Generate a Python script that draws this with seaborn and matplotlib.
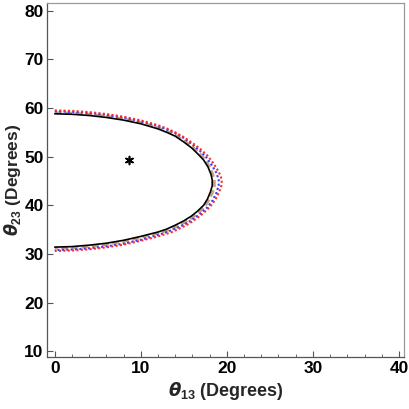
import numpy as np
import pandas as pd
import matplotlib
matplotlib.use("Agg")
import matplotlib.pyplot as plt
import seaborn as sns
from matplotlib.ticker import MultipleLocator

# contour values (theta13, theta23 in degrees)
black_t13 = [0, 2, 4, 6, 8, 10, 12, 13, 14, 15, 15.9, 16.6, 17.3, 17.8, 18.15, 18.3,
             18.3, 18.1, 17.75, 17.3, 16.6, 15.9, 15.0, 14.0, 13.0, 12.0, 10.0, 8.0, 6.0, 4.0, 2.0, 0]
black_t23 = [58.8, 58.7, 58.45, 58.05, 57.5, 56.75, 55.7, 55.0, 54.2, 53.0, 51.8, 50.6, 49.3, 47.9, 46.4, 45.2,
             44.0, 42.8, 41.3, 40.0, 38.8, 37.8, 36.8, 35.9, 35.1, 34.5, 33.6, 32.8, 32.2, 31.8, 31.5, 31.4]

brown_t13 = [0, 2, 4, 6, 8, 10, 12, 13, 14, 15, 16.0, 16.75, 17.45, 17.95, 18.35, 18.55,
             18.55, 18.35, 17.95, 17.5, 16.85, 16.1, 15.25, 14.25, 13.2, 12.0, 10.0, 8.0, 6.0, 4.0, 2.0, 0]
brown_t23 = [59.05, 58.95, 58.7, 58.3, 57.75, 57.0, 55.95, 55.25, 54.45, 53.3, 52.0, 50.8, 49.5, 48.0, 46.5, 45.2,
             44.0, 42.7, 41.2, 39.9, 38.7, 37.6, 36.6, 35.7, 34.9, 34.25, 33.35, 32.55, 31.95, 31.55, 31.25, 31.15]

blue_t13 = [0, 2, 4, 6, 8, 10, 12, 13, 14, 15, 16, 16.8, 17.55, 18.15, 18.75, 19.05,
            19.05, 18.8, 18.35, 17.75, 17.0, 16.2, 15.3, 14.3, 13.2, 12.0, 10.0, 8.0, 6.0, 4.0, 2.0, 0]
blue_t23 = [59.3, 59.2, 58.95, 58.55, 58.0, 57.25, 56.25, 55.6, 54.8, 53.8, 52.5, 51.3, 50.0, 48.5, 46.8, 45.3,
            44.1, 42.6, 41.0, 39.6, 38.4, 37.3, 36.3, 35.4, 34.6, 33.9, 32.9, 32.1, 31.55, 31.15, 30.9, 30.8]

red_t13 = [0, 2, 4, 6, 8, 10, 12, 13, 14, 15, 16, 16.9, 17.75, 18.45, 19.05, 19.4,
           19.4, 19.1, 18.65, 18.05, 17.3, 16.5, 15.6, 14.6, 13.5, 12.0, 10.0, 8.0, 6.0, 4.0, 2.0, 0]
red_t23 = [59.5, 59.4, 59.15, 58.75, 58.2, 57.45, 56.45, 55.8, 55.0, 54.0, 52.8, 51.6, 50.2, 48.6, 46.9, 45.4,
           44.2, 42.7, 41.1, 39.7, 38.4, 37.3, 36.2, 35.3, 34.4, 33.6, 32.7, 31.9, 31.35, 30.95, 30.7, 30.6]

best_fit = (8.6, 49.3)

x_ticks = [0, 10, 20, 30, 40]
y_ticks = [10, 20, 30, 40, 50, 60, 70, 80]

sns.set_style("white")
plt.rcParams['font.family'] = ['Liberation Sans', 'DejaVu Sans']
plt.rcParams['font.weight'] = 'bold'
plt.rcParams['mathtext.fontset'] = 'custom'
plt.rcParams['mathtext.it'] = 'DejaVu Sans:italic:bold'
plt.rcParams['mathtext.rm'] = 'Liberation Sans'

fig = plt.figure(figsize=(4.09, 4.09), dpi=100)
ax = fig.add_axes([0.115, 0.127, 0.873, 0.866])

curves = [
    (brown_t13, brown_t23, dict(color='#c9a27a', lw=2.0, linestyle=(0, (2.5, 1.2)))),
    (black_t13, black_t23, dict(color='black', lw=1.2, linestyle='-')),
    (blue_t13, blue_t23, dict(color='#3a3aff', lw=1.5, linestyle=(0, (1, 1.1)))),
    (red_t13, red_t23, dict(color='#ff2a2a', lw=1.5, linestyle=(0, (1, 1.1)))),
]
for t13, t23, st in curves:
    df = pd.DataFrame({'t13': t13, 't23': t23})
    sns.lineplot(data=df, x='t13', y='t23', sort=False, estimator=None, ax=ax, **st)

sns.scatterplot(x=[best_fit[0]], y=[best_fit[1]], marker=(6, 2, 0), s=32, color='black',
                edgecolor='black', linewidth=1.2, ax=ax, zorder=5)

ax.set_xlim(-0.9, 40.6)
ax.set_ylim(8.8, 81.6)
ax.set_xticks(x_ticks)
ax.set_yticks(y_ticks)
ax.xaxis.set_minor_locator(MultipleLocator(2))
ax.tick_params(axis='both', which='both', direction='in', bottom=True, left=True,
               top=False, right=False, labelsize=12.5, colors='#555555', labelcolor='black')
ax.tick_params(axis='both', which='major', length=4, width=0.8, pad=2.5)
ax.tick_params(axis='x', which='minor', length=2.2, width=0.6)
for lab in ax.get_xticklabels() + ax.get_yticklabels():
    lab.set_fontweight('bold')

for side, sp in ax.spines.items():
    sp.set_visible(True)
    sp.set_linewidth(0.9)
    sp.set_color('#555555' if side in ('left', 'bottom') else '#999999')

ax.set_xlabel(r'$\theta_{13}$ (Degrees)', fontsize=13, fontweight='bold', labelpad=3)
ax.set_ylabel(r'$\theta_{23}$ (Degrees)', fontsize=12.5, fontweight='bold', labelpad=0.5)

fig.savefig('out.png', dpi=100)
